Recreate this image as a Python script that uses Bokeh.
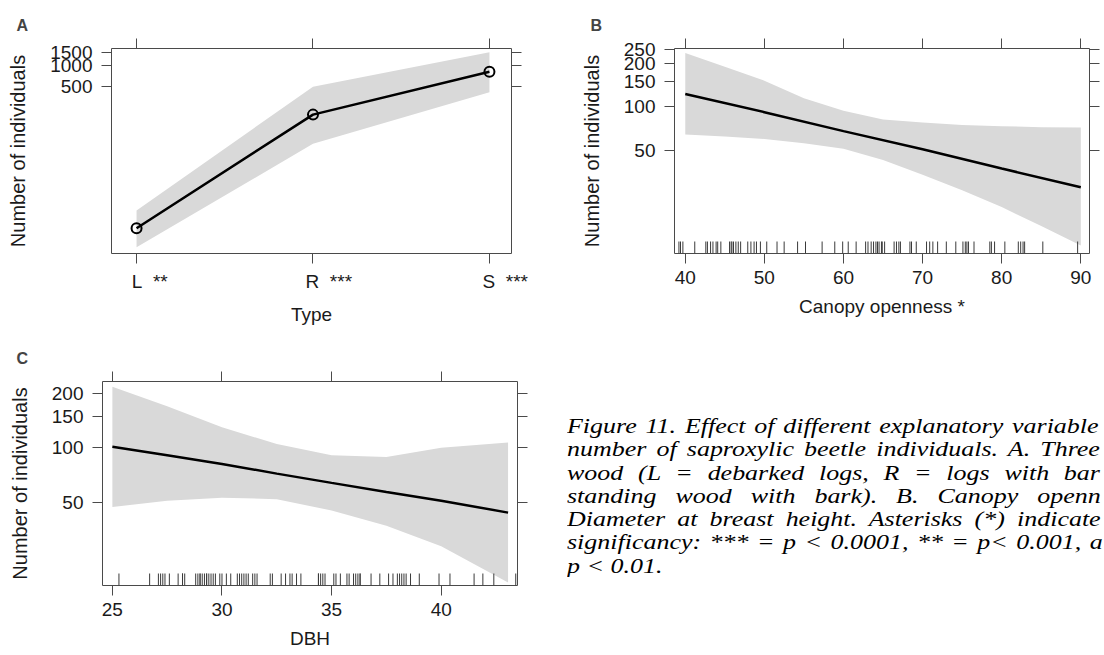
import html
from bokeh.plotting import figure
from bokeh.layouts import column, row
from bokeh.models import FixedTicker, LinearAxis, LogAxis, Range1d, Div
from bokeh.embed import file_html
from bokeh.resources import INLINE

# ---------------- data ----------------
# A: wood type
type_pos = [1, 2, 3]
type_labels = ["L", "R", "S"]
type_stars = ["**", "***", "***"]
type_fit = [5.0, 200, 805]
type_lower = [2.7, 77.5, 412]
type_upper = [8.9, 495, 1510]
type_yticks = [500, 1000, 1500]

# B: canopy openness
canopy_line_x = [40, 50, 60, 70, 80, 90]
canopy_fit = [123, 92, 68, 51, 37.5, 27.8]
canopy_band_x = [40, 45, 50, 55, 60, 65, 70, 75, 80, 85, 90]
canopy_upper = [236, 190, 152, 115, 94, 82, 78, 75, 73.5, 72.5, 72]
canopy_lower = [64.4, 62.5, 60, 56, 51.3, 43, 34, 26.5, 20.3, 15, 11]
canopy_rug = [39.2, 39.4, 39.7, 41.2, 42.6, 42.8, 43.2, 43.5, 43.9, 44.1, 44.5,
              45.6, 45.8, 45.9, 46.1, 46.4, 46.7, 47.0, 47.9, 48.3, 48.7, 49.0,
              49.5, 50.3, 51.6, 52.5, 54.2, 55.2, 57.3, 58.9, 59.9, 60.6, 61.6,
              62.8, 63.1, 63.5, 63.8, 64.1, 64.3, 64.5, 64.8, 64.9, 65.2, 66.4,
              66.7, 67.0, 67.2, 68.4, 68.6, 69.2, 70.5, 70.9, 71.3, 71.9, 73.0,
              74.2, 75.1, 75.4, 75.6, 75.8, 76.5, 78.5, 78.7, 79.1, 80.4, 82.1,
              82.4, 82.7, 82.9, 85.2, 89.6]
canopy_xticks = [40, 50, 60, 70, 80, 90]
canopy_yticks = [50, 100, 150, 200, 250]

# C: DBH
dbh_x = [25, 27.5, 30, 32.5, 35, 37.5, 40, 43.05]
dbh_fit = [101.5, 91, 81.5, 72, 64, 57, 51, 43.8]
dbh_upper = [218, 170, 130, 105, 91, 89, 100, 107]
dbh_lower = [47, 51, 53, 52, 45, 37, 28.5, 18]
dbh_rug = [25.3, 26.7, 27.1, 27.2, 27.3, 27.4, 27.6, 28.0, 28.2, 28.2, 28.3,
           28.8, 28.9, 29.0, 29.0, 29.1, 29.2, 29.3, 29.3, 29.4, 29.5, 29.6,
           29.7, 29.9, 30.0, 30.2, 30.4, 30.7, 30.8, 30.9, 31.0, 31.1, 31.2,
           31.4, 31.5, 31.6, 32.2, 32.3, 32.7, 32.9, 33.1, 33.2, 33.4, 33.6,
           34.4, 34.4, 34.5, 34.6, 34.7, 35.1, 35.2, 35.4, 35.7, 35.8, 36.0,
           36.1, 36.2, 36.3, 36.3, 36.8, 37.2, 37.6, 37.8, 38.0, 38.1, 38.2,
           38.3, 38.4, 38.6, 39.0, 39.9, 40.4, 41.5, 41.9, 42.4, 43.4]
dbh_xticks = [25, 30, 35, 40]
dbh_yticks = [50, 100, 150, 200]

caption_lines = [
    "Figure 11. Effect of different explanatory variable",
    "number of saproxylic beetle individuals. A. Three",
    "wood (L = debarked logs, R = logs with bar",
    "standing wood with bark). B. Canopy openn",
    "Diameter at breast height. Asterisks (*) indicate",
    "significancy: *** = p < 0.0001, ** = p< 0.001, a",
    "p < 0.01.",
]
# extra space between words, per line (justified block)
caption_word_spacing = [2.0, 3.1, 7.0, 10.6, 4.8, 1.7, 0]

# ---------------- style ----------------
FONT = "Liberation Sans"
INK = "#1a1a1a"
FRAME = "#4a4a4a"
BAND = "#d9d9d9"
YLAB = "Number of individuals"
NBSP = "\u00a0"
# leading pad so the factor letter sits on its tick with the stars trailing
type_label_pad = [5, 6, 6]


def style_axis(ax, ticks, labels=None):
    ax.ticker = FixedTicker(ticks=ticks)
    ax.major_tick_out = 10
    ax.major_tick_in = 0
    ax.minor_tick_out = 0
    ax.minor_tick_in = 0
    ax.axis_line_color = None
    ax.major_tick_line_color = FRAME
    ax.major_tick_line_width = 1
    ax.major_label_standoff = 7
    ax.major_label_text_font = FONT
    ax.major_label_text_font_size = "19px"
    ax.major_label_text_color = INK
    ax.axis_label_text_font = FONT
    ax.axis_label_text_font_size = "19px"
    ax.axis_label_text_font_style = "normal"
    ax.axis_label_text_color = INK
    if labels is None:
        ax.major_label_overrides = {t: "" for t in ticks}
        ax.major_label_text_font_size = "1px"
        ax.major_label_standoff = 0
    else:
        ax.major_label_overrides = dict(zip(ticks, labels))


def make_panel(letter, width, height, borders, xr, yr, xticks, xlabels,
               yticks, xlab, title_offset):
    left, right, top, bottom = borders
    p = figure(width=width, height=height, x_range=Range1d(*xr),
               y_range=Range1d(*yr), y_axis_type="log",
               output_backend="svg", toolbar_location=None,
               min_border_left=left, min_border_right=right,
               min_border_top=top, min_border_bottom=bottom)
    p.title.text = letter
    p.title.text_font = FONT
    p.title.text_font_size = "16px"
    p.title.text_font_style = "bold"
    p.title.align = "left"
    p.title.offset = title_offset
    p.grid.visible = False
    p.outline_line_color = FRAME
    p.outline_line_width = 1
    p.background_fill_color = "white"
    p.border_fill_color = "white"

    style_axis(p.xaxis[0], xticks, xlabels)
    p.xaxis[0].axis_label = xlab
    p.xaxis[0].axis_label_standoff = 9
    style_axis(p.yaxis[0], yticks, [str(t) for t in yticks])
    p.yaxis[0].axis_label = YLAB
    p.yaxis[0].axis_label_text_font_size = "20px"
    p.yaxis[0].major_label_standoff = 9
    p.yaxis[0].axis_label_standoff = 18

    top_ax = LinearAxis()
    style_axis(top_ax, xticks)
    p.add_layout(top_ax, "above")
    right_ax = LogAxis()
    style_axis(right_ax, yticks)
    p.add_layout(right_ax, "right")
    return p


# ---------------- panel A ----------------
type_tick_text = [NBSP * n + lab + NBSP * 2 + st
                  for n, lab, st in zip(type_label_pad, type_labels, type_stars)]
pA = make_panel("A", 545, 330, (111, 34, 48, 77), (0.858, 3.125), (2.2, 1712),
                type_pos, type_tick_text, type_yticks, "Type", -95)
pA.varea(x=type_pos, y1=type_lower, y2=type_upper, fill_color=BAND)
pA.line(x=type_pos, y=type_fit, line_color="black", line_width=2.5)
pA.scatter(x=type_pos, y=type_fit, size=10, marker="circle",
           fill_color=None, line_color="black", line_width=2)

# ---------------- panel B ----------------
pB = make_panel("B", 559, 330, (129, 15, 48, 77), (38.64, 91.1), (9.69, 253.6),
                canopy_xticks, [str(t) for t in canopy_xticks], canopy_yticks,
                "Canopy openness *", -84)
pB.varea(x=canopy_band_x, y1=canopy_lower, y2=canopy_upper, fill_color=BAND)
pB.line(x=canopy_line_x, y=canopy_fit, line_color="black", line_width=2.5)
pB.ray(x=canopy_rug, y=9.69, length=12, length_units="screen", angle=90,
       angle_units="deg", line_color="#3a3a3a", line_width=1)

# ---------------- panel C ----------------
pC = make_panel("C", 545, 325, (102, 28, 51, 70), (24.55, 43.48), (17.3, 233),
                dbh_xticks, [str(t) for t in dbh_xticks], dbh_yticks,
                "DBH", -86)
pC.varea(x=dbh_x, y1=dbh_lower, y2=dbh_upper, fill_color=BAND)
pC.line(x=dbh_x, y=dbh_fit, line_color="black", line_width=2.5)
pC.ray(x=dbh_rug, y=17.3, length=12, length_units="screen", angle=90,
       angle_units="deg", line_color="#3a3a3a", line_width=1)

# ---------------- caption ----------------
rows_html = "".join(
    f'<div style="word-spacing:{ws}px">{html.escape(line)}</div>'
    for line, ws in zip(caption_lines, caption_word_spacing)
)
caption = Div(
    text=(
        '<div style="margin:79px 0 0 17px; width:542px; overflow:hidden;">'
        '<div style="transform:scaleX(1.18); transform-origin:0 0; '
        "white-space:nowrap; font-family:'Liberation Serif'; font-style:italic; "
        'font-size:22px; line-height:23.3px; color:#000;">'
        + rows_html
        + "</div></div>"
    ),
    width=559, height=325,
)

layout = column(row(pA, pB), row(pC, caption))
open("out.html", "w").write(file_html(layout, INLINE))
